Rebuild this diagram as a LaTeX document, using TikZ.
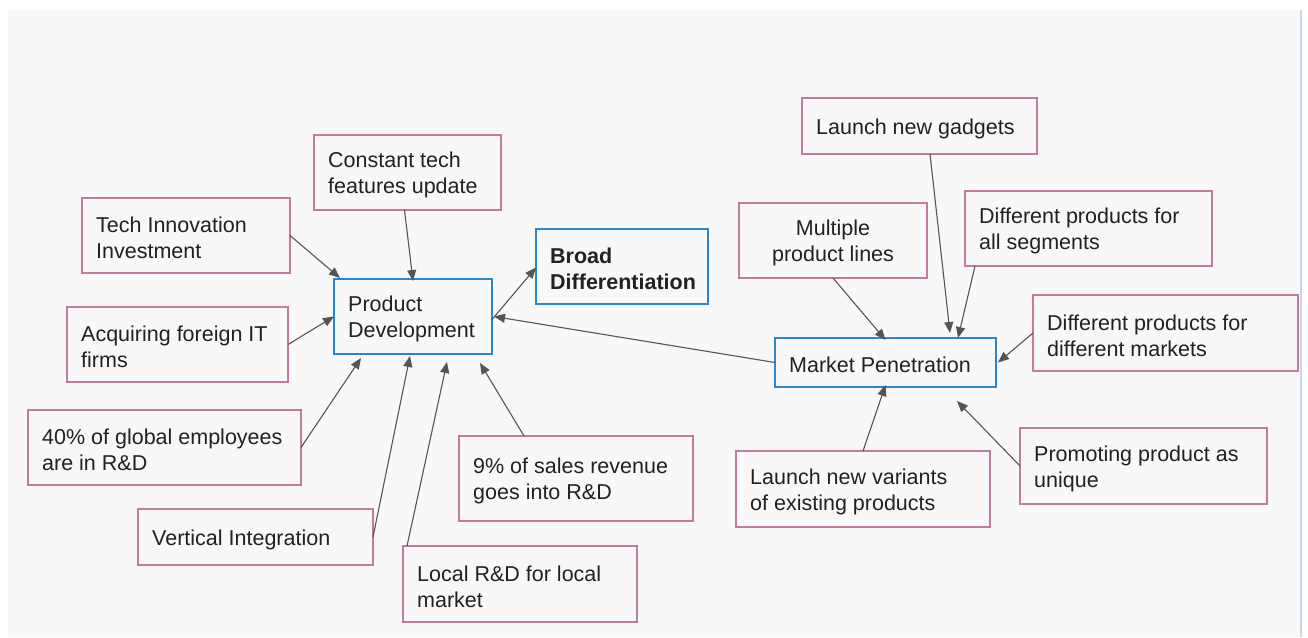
\documentclass[tikz,border=0pt]{standalone}
\usepackage{fontspec}
\setmainfont{Liberation Sans}
\usetikzlibrary{arrows.meta}
\definecolor{panel}{HTML}{F8F8F8}
\definecolor{pinkline}{HTML}{C27BA0}
\definecolor{blueline}{HTML}{2E86C8}
\definecolor{ink}{HTML}{202124}
\definecolor{arrowgray}{HTML}{555555}
\definecolor{edgeblue}{HTML}{C9D7EA}

% box: style, name, x, y, width, height, text (left aligned, 14pt in)
\newcommand\card[7]{%
  \node[#1, minimum width=#5pt, minimum height=#6pt] (#2) at (#3,#4) {};
  \node[cardtext] (#2-t) at ([shift={(14pt,-2.5pt)}]#2.west) {#7};}
% same box with the text centred
\newcommand\midcard[7]{%
  \node[#1, minimum width=#5pt, minimum height=#6pt] (#2) at (#3,#4) {};
  \node[cardtext,anchor=center,align=center] (#2-t) at ([yshift=-2.5pt]#2.center) {#7};}

\begin{document}
\begin{tikzpicture}[x=1pt,y=-1pt,
  card/.style={draw=pinkline,line width=1.8pt,inner sep=0pt,outer sep=0pt,anchor=north west},
  keycard/.style={card,draw=blueline},
  cardtext/.style={anchor=west,align=left,inner sep=0pt,text=ink,font=\fontsize{21.5}{26}\selectfont},
  link/.style={draw=arrowgray,line width=1.1pt,-{Triangle[length=11pt,width=9pt]}}]

\useasboundingbox (0,0) rectangle (1308,637);
\fill[white] (0,0) rectangle (1308,637);
\fill[panel] (8,10) rectangle (1300,637);
\draw[edgeblue,line width=1.5pt] (1301,10) -- (1301,637);

% product development cluster
\card{card}{ti}{82}{198}{208}{75}{Tech Innovation\\Investment}
\card{card}{ct}{314}{135}{187}{75}{Constant tech\\features update}
\card{card}{af}{67}{307}{221}{75}{Acquiring foreign IT\\firms}
\card{keycard}{pd}{334}{279}{158}{75}{Product\\Development}
\card{keycard}{bd}{536}{229}{172}{75}{\bfseries Broad\\\bfseries Differentiation}
\card{card}{ge}{28}{410}{273}{75}{40\% of global employees\\are in R\&D}
\card{card}{vi}{138}{509}{235}{56}{Vertical Integration}
\card{card}{lr}{403}{546}{234}{76}{Local R\&D for local\\market}
\card{card}{sr}{459}{436}{234}{85}{9\% of sales revenue\\goes into R\&D}

% market penetration cluster
\card{card}{lg}{802}{98}{235}{56}{Launch new gadgets}
\midcard{card}{ml}{739}{203}{188}{75}{Multiple\\product lines}
\card{card}{ds}{965}{191}{247}{75}{Different products for\\all segments}
\card{card}{dm}{1033}{295}{265}{76}{Different products for\\different markets}
\card{keycard}{mkt}{775}{338}{221}{49}{Market Penetration}
\card{card}{lv}{736}{451}{254}{76}{Launch new variants\\of existing products}
\card{card}{pu}{1020}{428}{247}{76}{Promoting product as\\unique}

% connectors into Product Development
\draw[link] (ti.east) -- ([shift={(6,-1)}]pd.north west);
\draw[link] ([xshift=-3]ct.south) -- ([yshift=-2]pd.north);
\draw[link] (af.east) -- (pd.west);
\draw[link] (ge.east) -- ([shift={(27,4)}]pd.south west);
\draw[link] (vi.east) -- ([shift={(-3,2)}]pd.south);
\draw[link] ([xshift=4]lr.north west) -- ([shift={(34,8)}]pd.south);
\draw[link] ([xshift=65]sr.north west) -- ([shift={(-12,9)}]pd.south east);
\draw[link] (mkt.west) -- ([shift={(2,0)}]pd.east);
\draw[link] ([yshift=-3]pd.east) -- ([shift={(0,1)}]bd.west);

% connectors into Market Penetration
\draw[link] ([xshift=128]lg.south west) -- ([shift={(175,-5)}]mkt.north west);
\draw[link] ([xshift=10]ds.south west) -- ([shift={(183,0)}]mkt.north west);
\draw[link] (ml.south) -- ([yshift=-2]mkt.north);
\draw[link] (dm.west) -- ([xshift=2]mkt.east);
\draw[link] (lv.north) -- ([yshift=2]mkt.south);
\draw[link] (pu.west) -- ([shift={(-39,14)}]mkt.south east);
\end{tikzpicture}
\end{document}
